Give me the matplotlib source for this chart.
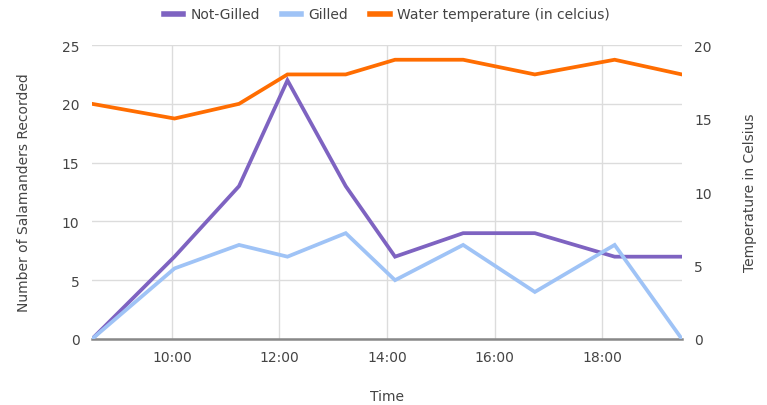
import matplotlib
matplotlib.use("Agg")
import matplotlib.pyplot as plt
from matplotlib.ticker import FuncFormatter, MultipleLocator
from matplotlib.lines import Line2D

# Data (times as HH:MM)
times = ["8:31", "10:03", "11:15", "12:09", "13:14", "14:09", "15:25", "16:45", "18:14", "19:29"]
not_gilled = [0, 7, 13, 22, 13, 7, 9, 9, 7, 7]
gilled = [0, 6, 8, 7, 9, 5, 8, 4, 8, 0]
water_temp = [16, 15, 16, 18, 18, 19, 19, 18, 19, 18]

series_names = ["Not-Gilled", "Gilled", "Water temperature (in celcius)"]
colors = ["#7e63c1", "#9fc3f6", "#ff6d01"]

hours = [int(t.split(":")[0]) + int(t.split(":")[1]) / 60 for t in times]

plt.rcParams["font.family"] = ["DejaVu Sans"]
text_color = "#444444"

fig = plt.figure(figsize=(7.67, 4.06), dpi=100)
ax = fig.add_axes([0.12, 0.1626, 0.769, 0.724])
ax2 = ax.twinx()

ax.plot(hours, not_gilled, color=colors[0], lw=2.7, solid_joinstyle="miter", zorder=3)
ax.plot(hours, gilled, color=colors[1], lw=2.7, solid_joinstyle="miter", zorder=3)
ax2.plot(hours, water_temp, color=colors[2], lw=2.7, solid_joinstyle="miter", zorder=3)

ax.set_xlim(hours[0], hours[-1])
ax.set_ylim(0, 25)
ax2.set_ylim(0, 20)
ax.yaxis.set_major_locator(MultipleLocator(5))
ax2.yaxis.set_major_locator(MultipleLocator(5))
ax.set_xticks([10, 12, 14, 16, 18])
ax.xaxis.set_major_formatter(FuncFormatter(lambda v, p: f"{int(v)}:00"))

ax.grid(True, color="#dcdcdc", lw=1)
ax.set_axisbelow(True)
for a in (ax, ax2):
    for s in a.spines.values():
        s.set_visible(False)
    a.tick_params(length=0, labelsize=10, colors=text_color)
ax.spines["bottom"].set_visible(True)
ax.spines["bottom"].set_color("#888888")
ax.spines["bottom"].set_linewidth(1.8)
ax.tick_params(axis="x", pad=8)
ax.tick_params(axis="y", pad=9)
ax2.tick_params(axis="y", pad=9)

ax.set_xlabel("Time", fontsize=10, color=text_color, labelpad=18)
ax.set_ylabel("Number of Salamanders Recorded", fontsize=10, color=text_color, labelpad=22)
ax2.set_ylabel("Temperature in Celsius", fontsize=10, color=text_color, labelpad=22)

handles = [Line2D([], [], color=c, lw=4) for c in colors]
fig.legend(handles, series_names, loc="center", bbox_to_anchor=(0.504, 0.962), ncol=3,
           frameon=False, fontsize=10, handlelength=1.4, handletextpad=0.5,
           columnspacing=1.6, labelcolor=text_color)

fig.savefig("out.png", dpi=100)
